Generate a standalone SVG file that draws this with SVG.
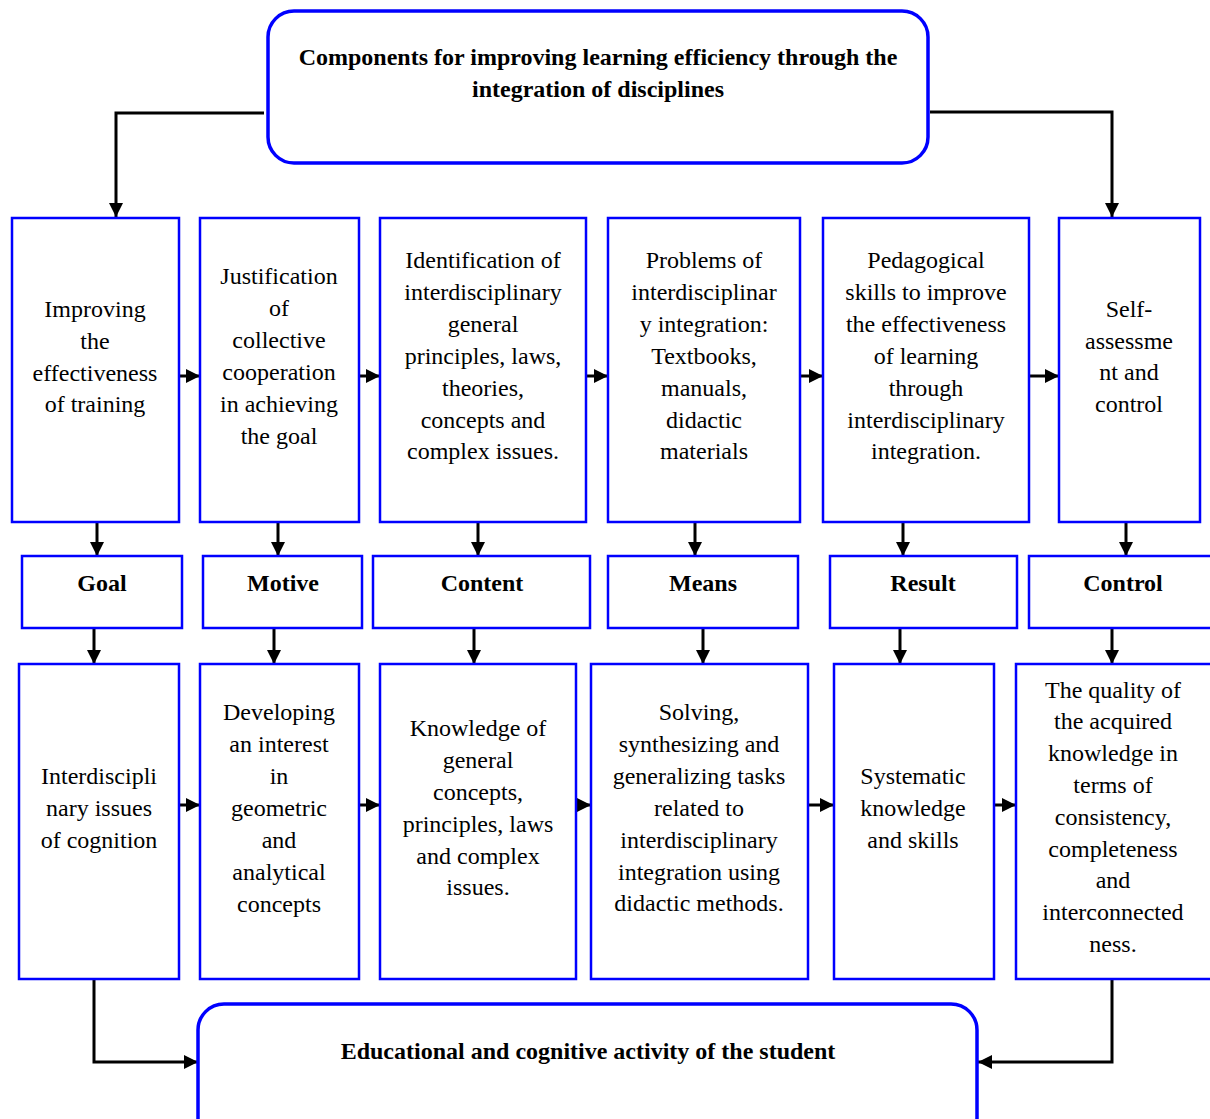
<svg xmlns="http://www.w3.org/2000/svg" width="1210" height="1119" viewBox="0 0 1210 1119">
<style>
.box{fill:#fff;stroke:#0000ff;stroke-width:2.5}
.rbox{fill:#fff;stroke:#0000ff;stroke-width:3.5}
.t{font-family:"Liberation Serif","Times New Roman",serif;font-size:24px;fill:#000;text-anchor:middle}
.b{font-weight:bold}
.c{fill:none;stroke:#000;stroke-width:3}
</style>
<defs>
<marker id="ah" markerUnits="userSpaceOnUse" markerWidth="14" markerHeight="14" viewBox="0 0 14 14" refX="14" refY="7" orient="auto">
<path d="M0,0 L14,7 L0,14 Z" fill="#000"/>
</marker>
</defs>
<rect width="1210" height="1119" fill="#fff"/>
<g id="connectors">
<path class="c" d="M264,113 H116 V217" marker-end="url(#ah)"/>
<path class="c" d="M930,112 H1112 V217" marker-end="url(#ah)"/>
<path class="c" d="M179,376 H200" marker-end="url(#ah)"/>
<path class="c" d="M359,376 H380" marker-end="url(#ah)"/>
<path class="c" d="M586,376 H608" marker-end="url(#ah)"/>
<path class="c" d="M800,376 H823" marker-end="url(#ah)"/>
<path class="c" d="M1029,376 H1059" marker-end="url(#ah)"/>
<path class="c" d="M97,522 V556" marker-end="url(#ah)"/>
<path class="c" d="M278,522 V556" marker-end="url(#ah)"/>
<path class="c" d="M478,522 V556" marker-end="url(#ah)"/>
<path class="c" d="M695,522 V556" marker-end="url(#ah)"/>
<path class="c" d="M903,522 V556" marker-end="url(#ah)"/>
<path class="c" d="M1126,522 V556" marker-end="url(#ah)"/>
<path class="c" d="M94,628 V664" marker-end="url(#ah)"/>
<path class="c" d="M274,628 V664" marker-end="url(#ah)"/>
<path class="c" d="M474,628 V664" marker-end="url(#ah)"/>
<path class="c" d="M703,628 V664" marker-end="url(#ah)"/>
<path class="c" d="M900,628 V664" marker-end="url(#ah)"/>
<path class="c" d="M1112,628 V664" marker-end="url(#ah)"/>
<path class="c" d="M179,805 H200" marker-end="url(#ah)"/>
<path class="c" d="M359,805 H380" marker-end="url(#ah)"/>
<path class="c" d="M576,805 H591" marker-end="url(#ah)"/>
<path class="c" d="M808,805 H834" marker-end="url(#ah)"/>
<path class="c" d="M994,805 H1016" marker-end="url(#ah)"/>
<path class="c" d="M94,979 V1062 H198" marker-end="url(#ah)"/>
<path class="c" d="M1112,979 V1062 H978" marker-end="url(#ah)"/>
</g>
<g id="top">
<rect class="rbox" x="268" y="11" width="660" height="152" rx="26"/>
<text class="t b" x="598" y="65">Components for improving learning efficiency through the</text>
<text class="t b" x="598" y="97">integration of disciplines</text>
</g>
<g id="r1n1"><rect class="box" x="12" y="218" width="167" height="304"/>
<text class="t" x="95"><tspan x="95" y="317">Improving</tspan><tspan x="95" y="349">the</tspan><tspan x="95" y="381">effectiveness</tspan><tspan x="95" y="412">of training</tspan></text></g>
<g id="r1n2"><rect class="box" x="200" y="218" width="159" height="304"/>
<text class="t" x="279"><tspan x="279" y="284">Justification</tspan><tspan x="279" y="316">of</tspan><tspan x="279" y="348">collective</tspan><tspan x="279" y="380">cooperation</tspan><tspan x="279" y="412">in achieving</tspan><tspan x="279" y="444">the goal</tspan></text></g>
<g id="r1n3"><rect class="box" x="380" y="218" width="206" height="304"/>
<text class="t" x="483"><tspan x="483" y="268">Identification of</tspan><tspan x="483" y="300">interdisciplinary</tspan><tspan x="483" y="332">general</tspan><tspan x="483" y="364">principles, laws,</tspan><tspan x="483" y="396">theories,</tspan><tspan x="483" y="428">concepts and</tspan><tspan x="483" y="459">complex issues.</tspan></text></g>
<g id="r1n4"><rect class="box" x="608" y="218" width="192" height="304"/>
<text class="t" x="704"><tspan x="704" y="268">Problems of</tspan><tspan x="704" y="300">interdisciplinar</tspan><tspan x="704" y="332">y integration:</tspan><tspan x="704" y="364">Textbooks,</tspan><tspan x="704" y="396">manuals,</tspan><tspan x="704" y="428">didactic</tspan><tspan x="704" y="459">materials</tspan></text></g>
<g id="r1n5"><rect class="box" x="823" y="218" width="206" height="304"/>
<text class="t" x="926"><tspan x="926" y="268">Pedagogical</tspan><tspan x="926" y="300">skills to improve</tspan><tspan x="926" y="332">the effectiveness</tspan><tspan x="926" y="364">of learning</tspan><tspan x="926" y="396">through</tspan><tspan x="926" y="428">interdisciplinary</tspan><tspan x="926" y="459">integration.</tspan></text></g>
<g id="r1n6"><rect class="box" x="1059" y="218" width="141" height="304"/>
<text class="t" x="1129"><tspan x="1129" y="317">Self-</tspan><tspan x="1129" y="349">assessme</tspan><tspan x="1129" y="380">nt and</tspan><tspan x="1129" y="412">control</tspan></text></g>
<g id="goal"><rect class="box" x="22" y="556" width="160" height="72"/><text class="t b" x="102" y="591">Goal</text></g>
<g id="motive"><rect class="box" x="203" y="556" width="159" height="72"/><text class="t b" x="283" y="591">Motive</text></g>
<g id="content"><rect class="box" x="373" y="556" width="217" height="72"/><text class="t b" x="482" y="591">Content</text></g>
<g id="means"><rect class="box" x="608" y="556" width="190" height="72"/><text class="t b" x="703" y="591">Means</text></g>
<g id="result"><rect class="box" x="830" y="556" width="187" height="72"/><text class="t b" x="923" y="591">Result</text></g>
<g id="control"><rect class="box" x="1029" y="556" width="185" height="72"/><text class="t b" x="1123" y="591">Control</text></g>
<g id="r3n1"><rect class="box" x="19" y="664" width="160" height="315"/>
<text class="t" x="99"><tspan x="99" y="784">Interdiscipli</tspan><tspan x="99" y="816">nary issues</tspan><tspan x="99" y="848">of cognition</tspan></text></g>
<g id="r3n2"><rect class="box" x="200" y="664" width="159" height="315"/>
<text class="t" x="279"><tspan x="279" y="720">Developing</tspan><tspan x="279" y="752">an interest</tspan><tspan x="279" y="784">in</tspan><tspan x="279" y="816">geometric</tspan><tspan x="279" y="848">and</tspan><tspan x="279" y="880">analytical</tspan><tspan x="279" y="912">concepts</tspan></text></g>
<g id="r3n3"><rect class="box" x="380" y="664" width="196" height="315"/>
<text class="t" x="478"><tspan x="478" y="736">Knowledge of</tspan><tspan x="478" y="768">general</tspan><tspan x="478" y="800">concepts,</tspan><tspan x="478" y="832">principles, laws</tspan><tspan x="478" y="864">and complex</tspan><tspan x="478" y="895">issues.</tspan></text></g>
<g id="r3n4"><rect class="box" x="591" y="664" width="217" height="315"/>
<text class="t" x="699"><tspan x="699" y="720">Solving,</tspan><tspan x="699" y="752">synthesizing and</tspan><tspan x="699" y="784">generalizing tasks</tspan><tspan x="699" y="816">related to</tspan><tspan x="699" y="848">interdisciplinary</tspan><tspan x="699" y="880">integration using</tspan><tspan x="699" y="911">didactic methods.</tspan></text></g>
<g id="r3n5"><rect class="box" x="834" y="664" width="160" height="315"/>
<text class="t" x="913"><tspan x="913" y="784">Systematic</tspan><tspan x="913" y="816">knowledge</tspan><tspan x="913" y="848">and skills</tspan></text></g>
<g id="r3n6"><rect class="box" x="1016" y="664" width="198" height="315"/>
<text class="t" x="1113"><tspan x="1113" y="698">The quality of</tspan><tspan x="1113" y="729">the acquired</tspan><tspan x="1113" y="761">knowledge in</tspan><tspan x="1113" y="793">terms of</tspan><tspan x="1113" y="825">consistency,</tspan><tspan x="1113" y="857">completeness</tspan><tspan x="1113" y="888">and</tspan><tspan x="1113" y="920">interconnected</tspan><tspan x="1113" y="952">ness.</tspan></text></g>
<g id="bottom">
<rect class="rbox" x="198" y="1004" width="779" height="140" rx="26"/>
<text class="t b" x="588" y="1059">Educational and cognitive activity of the student</text>
</g>
</svg>
